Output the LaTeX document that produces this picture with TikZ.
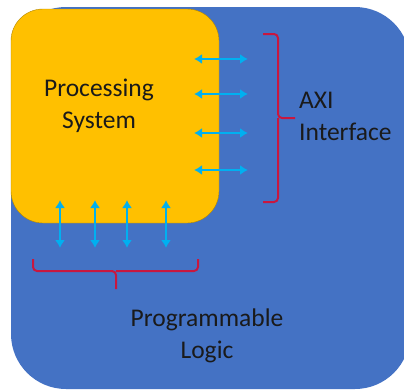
\documentclass[tikz,border=0pt]{standalone}
\usepackage{fontspec}
\setmainfont{Carlito}
\usetikzlibrary{arrows.meta}
\definecolor{plblue}{HTML}{4472C4}
\definecolor{psyellow}{HTML}{FFC000}
\definecolor{buscyan}{HTML}{00B0F0}
\definecolor{bracered}{HTML}{C8173F}
\definecolor{txt}{HTML}{1A1A1A}
\tikzset{
  bus/.style={buscyan, line width=2.4pt, {Latex[length=8pt,width=10pt]}-{Latex[length=8pt,width=10pt]}},
  bracket/.style={bracered, line width=2pt, rounded corners=4pt},
  label/.style={text=txt, font=\fontsize{25.5}{32}\selectfont, align=left, inner sep=0pt}
}
\begin{document}
\begin{tikzpicture}[x=1pt, y=-1pt]
  \useasboundingbox (0,0) rectangle (404,391);
  % programmable logic region
  \fill[plblue, rounded corners=55pt] (11,7) rectangle (410,389);
  % processing system block
  \fill[psyellow, draw=psyellow!70!black, line width=0.4pt, rounded corners=32pt] (11,9) rectangle (219,223);
  \node[label, align=center] (ps) at (99,106) {Processing\\System};
  \node[label, anchor=west] (axi) at (299,116) {AXI\\Interface};
  \node[label, align=center] (pl) at (207,336) {Programmable\\Logic};
  % horizontal AXI buses
  \foreach \i/\y in {1/59,2/94,3/133,4/170}{
    \coordinate (h\i a) at (194,\y);
    \coordinate (h\i b) at (248,\y);
    \draw[bus] (h\i a) -- (h\i b);
  }
  % vertical buses
  \foreach \i/\x in {1/60,2/95,3/127,4/166}{
    \coordinate (v\i a) at (\x,200);
    \coordinate (v\i b) at (\x,248);
    \draw[bus] (v\i a) -- (v\i b);
  }
  % right bracket
  \coordinate (rt) at (263,34);
  \coordinate (rb) at (263,202);
  \coordinate (rm) at (295,118);
  \draw[bracket] (rt) -- (278,34) -- (278,118) -- (rm);
  \draw[bracket] (rb) -- (278,202) -- (278,118);
  % bottom bracket
  \coordinate (bl) at (33,259);
  \coordinate (br) at (198,259);
  \coordinate (bm) at (116,289);
  \draw[bracket] (bl) -- (33,271) -- (116,271) -- (bm);
  \draw[bracket] (br) -- (198,271) -- (116,271);
\end{tikzpicture}
\end{document}
